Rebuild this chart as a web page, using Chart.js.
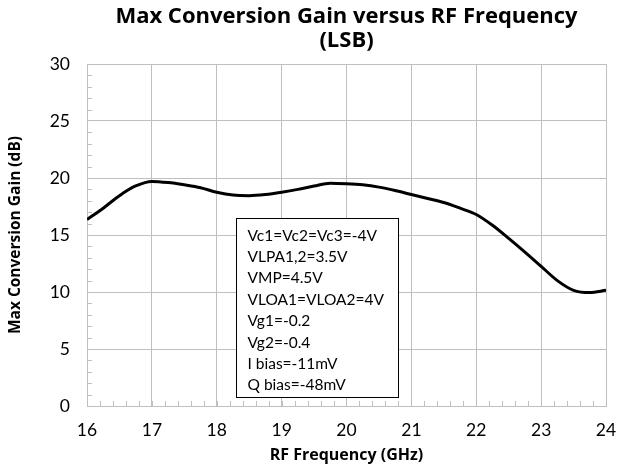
<!DOCTYPE html>
<html>
<head>
<meta charset="utf-8">
<script src="https://cdn.jsdelivr.net/npm/chart.js@4.4.1/dist/chart.umd.min.js"></script>
<style>
  html, body { margin: 0; padding: 0; background: #fff; }
  #wrap { width: 617px; height: 474px; }
</style>
</head>
<body>
<div id="wrap"><canvas id="myChart" width="617" height="474"></canvas></div>
<script>
// data
const freqGHz = [16.0, 16.25, 16.5, 16.75, 17.0, 17.25, 17.5, 17.75, 18.0, 18.25, 18.5, 18.75,
  19.0, 19.25, 19.5, 19.75, 20.0, 20.25, 20.5, 20.75, 21.0, 21.25, 21.5, 21.75,
  22.0, 22.25, 22.5, 22.75, 23.0, 23.25, 23.5, 23.75, 24.0];
const gainDb = [16.35, 17.35, 18.45, 19.3, 19.7, 19.6, 19.4, 19.15, 18.75, 18.5, 18.45, 18.55,
  18.75, 19.0, 19.3, 19.55, 19.5, 19.4, 19.2, 18.9, 18.55, 18.2, 17.85, 17.35,
  16.8, 15.85, 14.7, 13.5, 12.25, 11.0, 10.15, 9.95, 10.15];
const xTicks = [16, 17, 18, 19, 20, 21, 22, 23, 24];
const yTicks = [0, 5, 10, 15, 20, 25, 30];
const titleLines = ["Max Conversion Gain versus RF Frequency", "(LSB)"];
const noteLines = ["Vc1=Vc2=Vc3=-4V", "VLPA1,2=3.5V", "VMP=4.5V", "VLOA1=VLOA2=4V",
  "Vg1=-0.2", "Vg2=-0.4", "I bias=-11mV", "Q bias=-48mV"];

const FONT = "Lato, 'Open Sans', sans-serif";
const BOLD = "'Open Sans', Lato, sans-serif";
const GRID = "#bfbfbf";

// minor ticks, title and the text box
const extras = {
  id: "extras",
  beforeDatasetsDraw(chart) {
    const c = chart.ctx, a = chart.chartArea;
    const xs = chart.scales.x, ys = chart.scales.y;
    c.save();
    c.strokeStyle = GRID;
    c.lineWidth = 1;
    c.beginPath();
    for (let v = 16.2; v < 24; v += 0.2) {
      const px = Math.round(xs.getPixelForValue(v)) + 0.5;
      c.moveTo(px, a.bottom);
      c.lineTo(px, a.bottom - 5);
    }
    for (let v = 1; v < 30; v++) {
      if (v % 5 === 0) continue;
      const py = Math.round(ys.getPixelForValue(v)) + 0.5;
      c.moveTo(a.left, py);
      c.lineTo(a.left + 5, py);
    }
    c.stroke();
    c.restore();
  },
  afterDraw(chart) {
    const c = chart.ctx, a = chart.chartArea;
    const xs = chart.scales.x, ys = chart.scales.y;
    c.save();
    // title
    c.fillStyle = "#000";
    c.font = "bold 22px " + BOLD;
    c.textAlign = "center";
    c.textBaseline = "middle";
    const cx = (a.left + a.right) / 2;
    c.fillText(titleLines[0], cx, 17);
    c.fillText(titleLines[1], cx, 41);

    // parameter box
    const bx = Math.round(xs.getPixelForValue(18.3)) + 0.5;
    const bx2 = Math.round(xs.getPixelForValue(20.79)) + 0.5;
    const by = Math.round(ys.getPixelForValue(16.5)) + 0.5;
    const by2 = Math.round(ys.getPixelForValue(0.8)) + 0.5;
    c.fillStyle = "#fff";
    c.fillRect(bx, by, bx2 - bx, by2 - by);
    c.strokeStyle = "#000";
    c.lineWidth = 1;
    c.strokeRect(bx, by, bx2 - bx, by2 - by);
    c.fillStyle = "#000";
    c.font = "15.5px " + FONT;
    c.textAlign = "left";
    noteLines.forEach((t, i) => {
      c.fillText(t, bx + 11, by + 17 + i * 21.4);
    });
    c.restore();
  }
};

const ctx = document.getElementById("myChart").getContext("2d");
const myChart = new Chart(ctx, {
  type: "line",
  data: {
    datasets: [{
      label: "Max Conversion Gain",
      data: freqGHz.map((f, i) => ({ x: f, y: gainDb[i] })),
      borderColor: "#000",
      borderWidth: 3,
      pointRadius: 0,
      fill: false,
      cubicInterpolationMode: "monotone"
    }]
  },
  plugins: [extras],
  options: {
    responsive: false,
    animation: false,
    layout: { padding: { top: 64, right: 11, left: 0, bottom: 0 } },
    plugins: {
      legend: { display: false },
      tooltip: { enabled: false },
      title: { display: false }
    },
    scales: {
      x: {
        type: "linear",
        min: 16,
        max: 24,
        afterBuildTicks: s => { s.ticks = xTicks.map(v => ({ value: v })); },
        afterFit: s => { s.height = 68; s.paddingLeft = 0; s.paddingRight = 0; },
        grid: { color: GRID, drawTicks: false },
        border: { color: GRID },
        ticks: { color: "#000", font: { family: FONT, size: 17.5 }, padding: 14, maxRotation: 0 },
        title: {
          display: true,
          text: "RF Frequency (GHz)",
          color: "#000",
          font: { family: BOLD, size: 16, weight: "bold" },
          padding: { top: 0, bottom: 9 }
        }
      },
      y: {
        min: 0,
        max: 30,
        afterBuildTicks: s => { s.ticks = yTicks.map(v => ({ value: v })); },
        afterFit: s => { s.width = 87; s.paddingTop = 0; s.paddingBottom = 0; },
        grid: { color: GRID, drawTicks: false },
        border: { color: GRID },
        ticks: { color: "#000", font: { family: FONT, size: 17.5 }, padding: 17 },
        title: {
          display: true,
          text: "Max Conversion Gain (dB)",
          color: "#000",
          font: { family: BOLD, size: 15.5, weight: "bold" },
          padding: { top: 6, bottom: 0 }
        }
      }
    }
  }
});
</script>
</body>
</html>
